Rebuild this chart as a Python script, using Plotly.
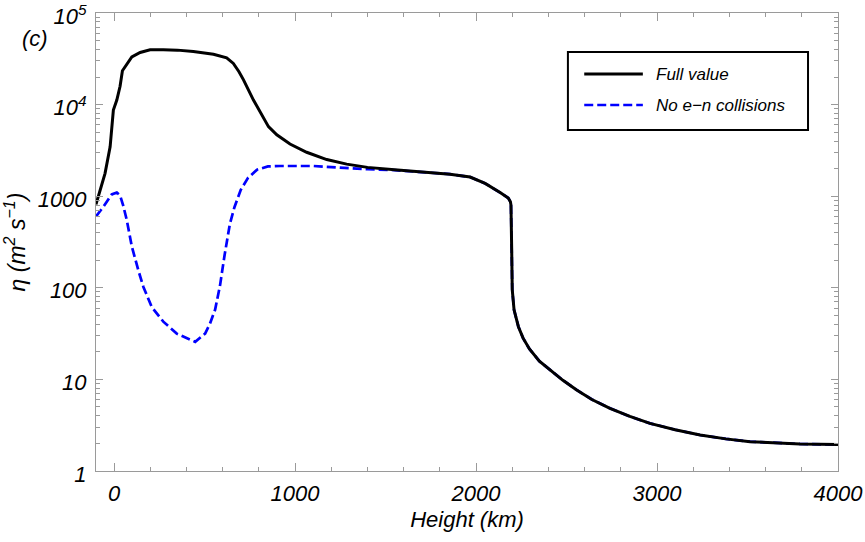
import plotly.graph_objects as go

# ---- data ----
height_full = [-100, -70, -50, -22, -4, 15, 33, 46, 61, 98, 144, 199, 272, 350, 438, 549,
               622, 659, 690, 715, 770, 853, 899, 972, 1064, 1175, 1285, 1400, 1550, 1700,
               1856, 1967, 2050, 2133, 2178, 2190, 2193, 2197, 2200, 2210, 2234, 2260, 2295,
               2350, 2409, 2480, 2556, 2640, 2740, 2850, 2961, 3100, 3238, 3380, 3514, 3650,
               3790, 4000]
eta_full = [813, 1318, 1778, 3467, 8710, 11220, 15850, 23440, 25700, 33110, 37150, 39810,
            39810, 39360, 38020, 35480, 32360, 28180, 22900, 18620, 11220, 5750, 4680, 3715,
            3020, 2512, 2240, 2065, 1950, 1840, 1740, 1620, 1380, 1096, 955, 871, 794, 257,
            95.5, 57.5, 37.6, 28.2, 21.5, 15.8, 12.6, 9.77, 7.67, 6.03, 4.83, 3.94, 3.31,
            2.82, 2.47, 2.24, 2.09, 2.02, 1.97, 1.94]

height_noen = [-100, -59, -13, 15, 33, 50, 70, 98, 134, 162, 208, 272, 346, 400, 448, 503,
               530, 558, 585, 610, 640, 665, 700, 740, 790, 850, 917, 1101, 1250, 1400, 1550,
               1700, 1856, 1967, 2050, 2133, 2178, 2190, 2193, 2197, 2200, 2210, 2234, 2260,
               2295, 2350, 2409, 2480, 2556, 2640, 2740, 2850, 2961, 3100, 3238, 3380, 3514,
               3650, 3790, 4000]
eta_noen = [603, 767, 1047, 1096, 1023, 794, 550, 282, 155, 102, 61.7, 42.7, 31.6, 28.2,
            25.7, 31.6, 40.7, 57.5, 105, 224, 501, 759, 1175, 1585, 1950, 2113, 2138, 2138,
            2042, 1972, 1928, 1840, 1740, 1620, 1380, 1096, 955, 871, 794, 257, 95.5, 57.5,
            37.6, 28.2, 21.5, 15.8, 12.6, 9.77, 7.67, 6.03, 4.83, 3.94, 3.31, 2.82, 2.47,
            2.24, 2.09, 2.02, 1.97, 1.94]

series_names = ["Full value", "No e\u2212n collisions"]
x_tickvals = [0, 1000, 2000, 3000, 4000]
x_ticktext = ["0", "1000", "2000", "3000", "4000"]
y_tickvals = [1, 10, 100, 1000, 10000, 100000]
y_ticktext = ["1", "10", "100", "1000", "10<sup>4</sup>", "10<sup>5</sup>"]

FONT = "Liberation Sans, Arial, sans-serif"
FRAME = "#9a9a9a"
BLUE = "#0000ff"

fig = go.Figure()
fig.add_trace(go.Scatter(x=height_noen, y=eta_noen, mode="lines", name=series_names[1],
                         line=dict(color=BLUE, width=2.7, dash="9px,4px"), showlegend=False))
fig.add_trace(go.Scatter(x=height_full, y=eta_full, mode="lines", name=series_names[0],
                         line=dict(color="black", width=3), showlegend=False))

axis_common = dict(showline=True, linecolor=FRAME, linewidth=1, mirror="allticks",
                   ticks="inside", tickcolor=FRAME, showgrid=False, zeroline=False,
                   automargin=False, ticklabeloverflow="allow",
                   tickfont=dict(family=FONT, size=22, color="black", style="italic"))

fig.update_xaxes(range=[-100, 4000], tickvals=x_tickvals, ticktext=x_ticktext, ticklen=8,
                 minor=dict(ticks="inside", ticklen=4, tickcolor=FRAME, dtick=200, tick0=0,
                            showgrid=False),
                 title=dict(text="Height (km)", standoff=6,
                            font=dict(family=FONT, size=22, color="black", style="italic")),
                 ticklabelstandoff=3,
                 **axis_common)
fig.update_yaxes(type="log", range=[-0.0005, 5.0005], tickvals=y_tickvals, ticktext=y_ticktext,
                 ticklen=7,
                 minor=dict(ticks="inside", ticklen=4, tickcolor=FRAME, dtick="D1",
                            showgrid=False),
                 title=dict(text="\u03b7 (m<sup>2</sup> s<sup>\u22121</sup>)", standoff=12,
                            font=dict(family=FONT, size=23, color="black", style="italic")),
                 ticklabelstandoff=4, ticklabelshift=3,
                 **axis_common)

# legend box drawn in paper coordinates
lx0, lx1, ly0, ly1 = 0.636, 0.9596, 0.7445, 0.9148
fig.add_shape(type="rect", xref="paper", yref="paper", x0=lx0, x1=lx1, y0=ly0, y1=ly1,
              line=dict(color="black", width=2), fillcolor="white", layer="above")
legend_rows = [0.8668, 0.7991]
legend_styles = [dict(color="black", width=3), dict(color=BLUE, width=2.7, dash="9px,4px")]
for yy, name, st in zip(legend_rows, series_names, legend_styles):
    fig.add_shape(type="line", xref="paper", yref="paper", x0=0.658, x1=0.737, y0=yy, y1=yy,
                  line=st, layer="above")
    fig.add_annotation(xref="paper", yref="paper", x=0.752, y=yy, text=name, showarrow=False,
                       xanchor="left", yanchor="middle",
                       font=dict(family=FONT, size=17, color="black", style="italic"))

fig.add_annotation(xref="paper", yref="paper", x=-0.0822, y=0.9454, text="(c)",
                   showarrow=False, xanchor="center", yanchor="middle",
                   font=dict(family=FONT, size=22, color="black", style="italic"))

fig.update_layout(width=865, height=542, autosize=False,
                  margin=dict(l=96, r=27, t=13, b=71, autoexpand=False),
                  plot_bgcolor="white", paper_bgcolor="white", showlegend=False)

fig.write_html("out.html", config={"displayModeBar": False})
